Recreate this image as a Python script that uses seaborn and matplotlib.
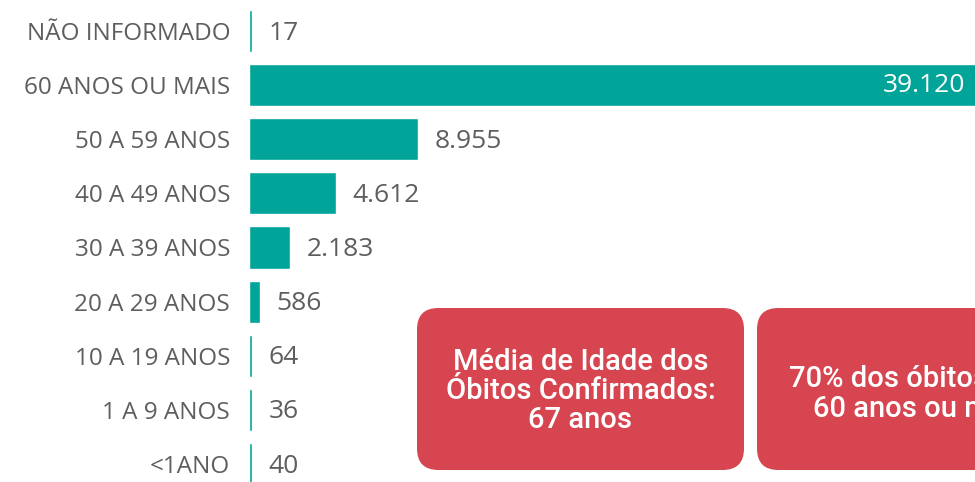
import numpy as np
import pandas as pd
import seaborn as sns
import matplotlib.pyplot as plt
from matplotlib.patches import FancyBboxPatch

faixas = ["NÃO INFORMADO", "60 ANOS OU MAIS", "50 A 59 ANOS", "40 A 49 ANOS",
          "30 A 39 ANOS", "20 A 29 ANOS", "10 A 19 ANOS", "1 A 9 ANOS", "<1ANO"]
obitos = [17, 39120, 8955, 4612, 2183, 586, 64, 36, 40]
rotulos = ["17", "39.120", "8.955", "4.612", "2.183", "586", "64", "36", "40"]

caixa_media = "Média de Idade dos\nÓbitos Confirmados:\n67 anos"
caixa_pct = "70% dos óbitos com\n60 anos ou mais"

verde = "#00A499"
vermelho = "#D64550"
cinza = "#605E5C"

sns.set_theme(style="white")
plt.rcParams["font.family"] = ["Open Sans", "DejaVu Sans"]

df = pd.DataFrame({"faixa": faixas, "obitos": obitos})
# largura minima visivel para barras muito pequenas
df["largura"] = np.maximum(df["obitos"], 160)

fig = plt.figure(figsize=(9.75, 4.82), dpi=100)
ax = fig.add_axes([249 / 975, -9 / 482, 726 / 975, 487 / 482])

sns.barplot(data=df, x="largura", y="faixa", orient="h", color=verde,
            saturation=1, width=0.78, ax=ax)
ax.set_xlim(0, 38470)
ax.set_ylim(len(faixas) - 0.5, -0.5)
sns.despine(ax=ax, left=True, bottom=True)
ax.set_xticks([])
ax.set_xlabel("")
ax.set_ylabel("")
ax.tick_params(axis="y", length=0, pad=13.5, labelsize=17.5, labelcolor=cinza)

xmax = ax.get_xlim()[1]
for i, (v, r) in enumerate(zip(df["largura"], rotulos)):
    if v > xmax:
        ax.annotate(r, xy=(1, i), xycoords=("axes fraction", "data"),
                    xytext=(-7, 0), textcoords="offset points",
                    ha="right", va="center", fontsize=19, color="white")
    else:
        ax.annotate(r, xy=(v, i), xytext=(12, -1.5), textcoords="offset points",
                    ha="left", va="center", fontsize=19, color=cinza)

W, H = 975, 482
for x0, texto, yc in [(417, caixa_media, 91), (757, caixa_pct, 88)]:
    caixa = FancyBboxPatch((x0 / W, 12 / H), 327 / W, 162 / H,
                           boxstyle="round,pad=0,rounding_size=0.022",
                           transform=fig.transFigure, facecolor=vermelho,
                           edgecolor="none", mutation_aspect=W / H)
    fig.add_artist(caixa)
    fig.text((x0 + 163.5) / W, yc / H, texto, ha="center", va="center",
             color="white", fontsize=21, family=["Roboto", "DejaVu Sans"],
             fontweight="medium", linespacing=1.05)

fig.savefig("out.png", dpi=100)
